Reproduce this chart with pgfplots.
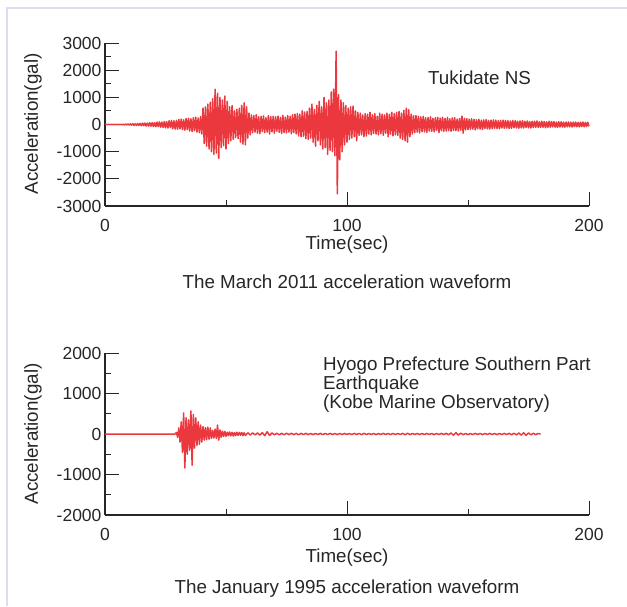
\documentclass[border=0pt]{standalone}
\usepackage{pgfplots}
\pgfplotsset{compat=1.18}
\usepackage{fontspec}
\setmainfont{Liberation Sans}
\definecolor{wavered}{RGB}{234,56,62}
\definecolor{txt}{RGB}{38,38,38}
\definecolor{framecol}{RGB}{218,222,240}

\pgfplotsset{
  quake/.style={
    scale only axis,
    width=484pt,
    anchor=south west,
    axis lines*=left,
    axis line style={-, line width=1.1pt, color=txt},
    tick align=inside,
    major tick length=14pt,
    minor tick length=6pt,
    every tick/.style={line width=1pt, color=txt},
    xmin=0, xmax=200,
    xtick={0,100,200},
    xticklabels={0,100,200},
    minor xtick={50,150},
    enlargelimits=false,
    tick label style={font=\fontsize{17.5}{17.5}\selectfont, text=txt},
    xticklabel style={yshift=-10pt},
    clip=false,
  },
  quakeline/.style={color=wavered, line width=1.5pt, line join=round, mark=none},
}

\begin{document}
\begin{tikzpicture}[every node/.style={text=txt, font=\fontsize{18.8}{19}\selectfont}]
\path[use as bounding box] (0,0) rectangle (627pt,606pt);
\draw[framecol, line width=2pt] (7pt,0) -- (7pt,598pt) -- (627pt,598pt);

% 2011 record
\begin{axis}[quake, at={(105pt,400pt)}, height=163pt,
  ymin=-3000, ymax=3000,
  ytick={-3000,-2000,-1000,0,1000,2000,3000},
  yticklabels={-3000,-2000,-1000,0,1000,2000,3000},
  minor ytick={-2500,-1500,-500,500,1500,2500}]
\addplot[quakeline] coordinates {
(0,0)(0.5,4)(1,-5)(1.5,6)(2,-4)(2.5,5)(3,-6)(3.5,5)(4,-7)(4.5,6)
(5,-8)(5.5,9)(6,-7)(6.5,10)(7,-12)(7.5,11)(8,-14)(8.5,16)(9,-15)(9.5,18)
(10,-20)(10.5,24)(11,-22)(11.5,28)(12,-30)(12.5,26)(13,-34)(13.5,38)(14,-32)(14.5,40)
(15,-45)(15.5,50)(16,-42)(16.5,55)(17,-60)(17.5,52)(18,-58)(18.5,66)(19,-62)(19.5,70)
(20,-75)(20.5,68)(21,-82)(21.5,90)(22,-78)(22.5,95)(23,-100)(23.5,88)(24,-105)(24.5,110)
(25,-120)(25.5,105)(26,-130)(26.5,140)(27,-115)(27.5,150)(28,-160)(28.5,135)(29,-170)(29.5,155)
(30,-175)(30.5,190)(31,-160)(31.5,200)(32,-185)(32.5,170)(33,-210)(33.5,220)(34,-190)(34.5,230)
(35,-240)(35.5,210)(36,-260)(36.5,250)(37,-230)(37.5,270)(38,-280)(38.5,240)(39,-300)(39.5,290)
(40,-350)(40.5,600)(41,-700)(41.5,650)(42,-800)(42.5,750)(43,-900)(43.5,820)(44,-1000)(44.5,950)
(45,-1100)(45.5,1300)(46,-1050)(46.5,1150)(47,-1250)(47.5,1000)(48,-850)(48.5,900)(49,-780)(49.5,1050)
(50,-900)(50.5,850)(51,-700)(51.5,650)(52,-600)(52.5,700)(53,-550)(53.5,500)(54,-480)(54.5,560)
(55,-520)(55.5,600)(56,-650)(56.5,700)(57,-720)(57.5,800)(58,-750)(58.5,650)(59,-500)(59.5,420)
(60,-380)(60.5,350)(61,-300)(61.5,330)(62,-280)(62.5,360)(63,-320)(63.5,290)(64,-340)(64.5,300)
(65,-260)(65.5,320)(66,-300)(66.5,250)(67,-280)(67.5,330)(68,-350)(68.5,290)(69,-270)(69.5,300)
(70,-320)(70.5,280)(71,-250)(71.5,310)(72,-290)(72.5,260)(73,-330)(73.5,340)(74,-300)(74.5,270)
(75,-310)(75.5,330)(76,-280)(76.5,300)(77,-340)(77.5,360)(78,-300)(78.5,380)(79,-350)(79.5,400)
(80,-420)(80.5,380)(81,-450)(81.5,500)(82,-430)(82.5,460)(83,-520)(83.5,480)(84,-550)(84.5,600)
(85,-500)(85.5,750)(86,-650)(86.5,550)(87,-800)(87.5,700)(88,-600)(88.5,850)(89,-750)(89.5,650)
(90,-900)(90.5,1000)(91,-850)(91.5,800)(92,-1100)(92.5,900)(93,-950)(93.5,1200)(94,-1000)(94.5,1300)
(95,-1150)(95.5,2700)(96,-2550)(96.5,1100)(97,-1300)(97.5,900)(98,-1000)(98.5,800)(99,-750)(99.5,700)
(100,-650)(100.5,600)(101,-550)(101.5,650)(102,-500)(102.5,680)(103,-450)(103.5,500)(104,-600)(104.5,450)
(105,-400)(105.5,420)(106,-380)(106.5,350)(107,-450)(107.5,400)(108,-420)(108.5,380)(109,-350)(109.5,450)
(110,-380)(110.5,360)(111,-330)(111.5,400)(112,-350)(112.5,300)(113,-380)(113.5,420)(114,-340)(114.5,380)
(115,-400)(115.5,350)(116,-320)(116.5,420)(117,-450)(117.5,380)(118,-360)(118.5,450)(119,-420)(119.5,400)
(120,-380)(120.5,450)(121,-400)(121.5,480)(122,-500)(122.5,420)(123,-550)(123.5,520)(124,-600)(124.5,600)
(125,-650)(125.5,550)(126,-450)(126.5,380)(127,-350)(127.5,320)(128,-300)(128.5,330)(129,-280)(129.5,300)
(130,-310)(130.5,280)(131,-260)(131.5,300)(132,-270)(132.5,250)(133,-290)(133.5,260)(134,-240)(134.5,280)
(135,-250)(135.5,230)(136,-270)(136.5,250)(137,-220)(137.5,260)(138,-300)(138.5,240)(139,-230)(139.5,270)
(140,-250)(140.5,220)(141,-240)(141.5,260)(142,-230)(142.5,210)(143,-250)(143.5,240)(144,-220)(144.5,250)
(145,-230)(145.5,200)(146,-240)(146.5,220)(147,-210)(147.5,310)(148,-320)(148.5,230)(149,-200)(149.5,220)
(150,-190)(150.5,200)(151,-180)(151.5,210)(152,-170)(152.5,190)(153,-200)(153.5,180)(154,-160)(154.5,190)
(155,-170)(155.5,160)(156,-180)(156.5,170)(157,-150)(157.5,180)(158,-160)(158.5,150)(159,-170)(159.5,160)
(160,-150)(160.5,170)(161,-140)(161.5,160)(162,-150)(162.5,140)(163,-160)(163.5,150)(164,-130)(164.5,160)
(165,-140)(165.5,150)(166,-130)(166.5,140)(167,-150)(167.5,130)(168,-140)(168.5,150)(169,-120)(169.5,140)
(170,-130)(170.5,120)(171,-140)(171.5,130)(172,-120)(172.5,140)(173,-130)(173.5,120)(174,-110)(174.5,130)
(175,-120)(175.5,110)(176,-130)(176.5,120)(177,-110)(177.5,120)(178,-100)(178.5,130)(179,-110)(179.5,100)
(180,-110)(180.5,120)(181,-100)(181.5,110)(182,-120)(182.5,100)(183,-110)(183.5,120)(184,-100)(184.5,110)
(185,-90)(185.5,110)(186,-100)(186.5,90)(187,-110)(187.5,100)(188,-90)(188.5,100)(189,-95)(189.5,90)
(190,-100)(190.5,90)(191,-85)(191.5,95)(192,-90)(192.5,85)(193,-95)(193.5,90)(194,-80)(194.5,90)
(195,-85)(195.5,80)(196,-90)(196.5,85)(197,-80)(197.5,90)(198,-85)(198.5,80)(199,-75)(199.5,80)(200,-70)
};
\end{axis}

% 1995 record
\begin{axis}[quake, at={(105pt,91pt)}, height=162pt,
  ymin=-2000, ymax=2000,
  ytick={-2000,-1000,0,1000,2000},
  yticklabels={-2000,-1000,0,1000,2000},
  minor ytick={-1500,-500,500,1500}]
\addplot[quakeline] coordinates {
(0,0)(29,0)(29.5,40)(30,-80)(30.5,150)(31,-200)(31.5,300)(32,-450)(32.5,520)(33,-840)
(33.5,400)(34,-500)(34.5,350)(35,-400)(35.5,570)(36,-770)(36.5,480)(37,-350)(37.5,400)(38,-280)
(38.5,300)(39,-250)(39.5,220)(40,-200)(40.5,180)(41,-150)(41.5,160)(42,-140)(42.5,170)(43,-130)
(43.5,150)(44,-110)(44.5,90)(45,-100)(45.5,120)(46,-110)(46.5,220)(47,-150)(47.5,100)(48,-80)
(48.5,70)(49,-60)(49.5,65)(50,-55)(50.5,45)(51,-40)(51.5,50)(52,-45)(52.5,40)(53,-50)
(53.5,35)(54,-40)(54.5,45)(55,-35)(55.5,40)(56,-30)(56.5,35)(57,-40)(57.5,30)(58,-35)
(59,30)(60,-25)(61,28)(62,-22)(63,25)(64,-28)(65,32)(66,-40)(67,55)(68,-35)
(69,25)(70,-20)(71,18)(72,-20)(73,16)(74,-18)(75,20)(76,-15)(77,18)(78,-16)
(79,15)(80,-18)(81,15)(82,-14)(83,16)(84,-15)(85,13)(86,-15)(87,14)(88,-13)
(89,15)(90,-14)(91,13)(92,-12)(93,14)(94,-13)(95,12)(96,-14)(97,13)(98,-12)
(99,14)(100,-12)(101,12)(102,-13)(103,14)(104,-12)(105,13)(106,-15)(107,16)(108,-14)
(109,13)(110,-12)(111,13)(112,-14)(113,12)(114,-13)(115,15)(116,-13)(117,12)(118,-14)
(119,13)(120,-12)(121,13)(122,-12)(123,15)(124,-18)(125,20)(126,-15)(127,13)(128,-12)
(129,13)(130,-14)(131,12)(132,-13)(133,14)(134,-12)(135,13)(136,-15)(137,13)(138,-12)
(139,14)(140,-13)(141,16)(142,-20)(143,25)(144,-30)(145,32)(146,-25)(147,20)(148,-16)
(149,13)(150,-14)(151,12)(152,-13)(153,14)(154,-12)(155,13)(156,-14)(157,12)(158,-13)
(159,15)(160,-13)(161,12)(162,-14)(163,13)(164,-12)(165,14)(166,-13)(167,16)(168,-18)
(169,20)(170,-22)(171,25)(172,-28)(173,30)(174,-32)(175,28)(176,-22)(177,18)(178,-15)
(179,12)(180,0)
};
\end{axis}

% labels and notes
\node[rotate=90] at (33pt,482pt) {Acceleration(gal)};
\node at (347pt,361pt) {Time(sec)};
\node at (347pt,324pt) {The March 2011 acceleration waveform};
\node[anchor=west, inner sep=0pt] at (428pt,528pt) {Tukidate NS};

\node[rotate=90] at (33pt,172pt) {Acceleration(gal)};
\node at (347pt,48pt) {Time(sec)};
\node at (347pt,17pt) {The January 1995 acceleration waveform};
\node[anchor=north west, inner sep=0pt, align=left] at (323pt,249pt)
  {Hyogo Prefecture Southern Part\\Earthquake\\(Kobe Marine Observatory)};
\end{tikzpicture}
\end{document}
